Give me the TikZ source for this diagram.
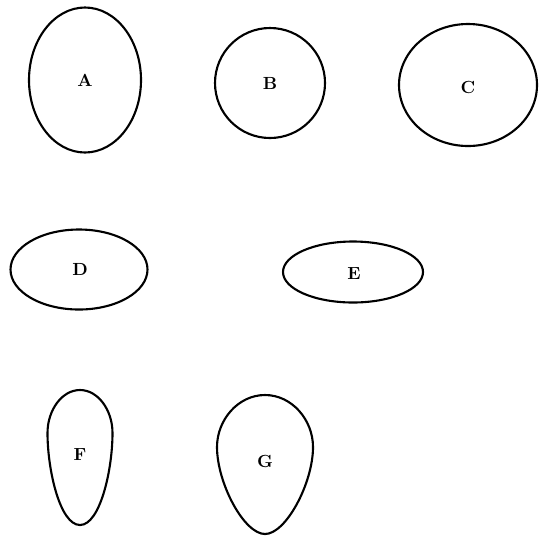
\documentclass[tikz,border=0pt]{standalone}
\usetikzlibrary{calc}

\begin{document}
\begin{tikzpicture}[
        x=0.02cm, y=-0.02cm,
        outline/.style={line width=1.2pt},
        letter/.style={font=\normalsize\bfseries, inner sep=0pt}
    ]

% Рамка рисунка
        \useasboundingbox (0,0) rectangle (546,535);

% Центры фигур
        \coordinate (cA) at (85,80);
        \coordinate (cB) at (270,83);
        \coordinate (cC) at (468,85);
        \coordinate (cD) at (79,269.5);
        \coordinate (cE) at (353,272);
        \coordinate (cF) at (80,457.5);
        \coordinate (cG) at (265,464.5);

% Верхний ряд: овал, круг, овал
        \draw[outline] (cA) ellipse [x radius=56, y radius=72.5];
        \draw[outline] (cB) circle (55);
        \draw[outline] (cC) ellipse [x radius=69, y radius=61];

% Средний ряд: вытянутые овалы
        \draw[outline] (cD) ellipse [x radius=68.5, y radius=40];
        \draw[outline] (cE) ellipse [x radius=70, y radius=30.5];

% Нижний ряд: яйцевидные формы, узкие снизу
        \draw[outline] (80,390)
            .. controls (98,390) and (112.5,410) .. (112.5,433)
            .. controls (112.5,470) and (100,525) .. (80,525)
            .. controls (60,525) and (47.5,470) .. (47.5,433)
            .. controls (47.5,410) and (62,390) .. cycle;
        \draw[outline] (265,395)
            .. controls (292,395) and (313,420) .. (313,447)
            .. controls (313,483) and (286,534) .. (265,534)
            .. controls (244,534) and (217,483) .. (217,447)
            .. controls (217,420) and (238,395) .. cycle;

% Буквы
        \node[letter] (labA) at (cA) {A};
        \node[letter] (labB) at (cB) {B};
        \node[letter] (labC) at ($(cC)+(0,2)$) {C};
        \node[letter] (labD) at ($(cD)+(1,0)$) {D};
        \node[letter] (labE) at ($(cE)+(1,2)$) {E};
        \node[letter] (labF) at ($(cF)+(0,-3)$) {F};
        \node[letter] (labG) at ($(cG)+(0,-3)$) {G};
    \end{tikzpicture}
\end{document}
